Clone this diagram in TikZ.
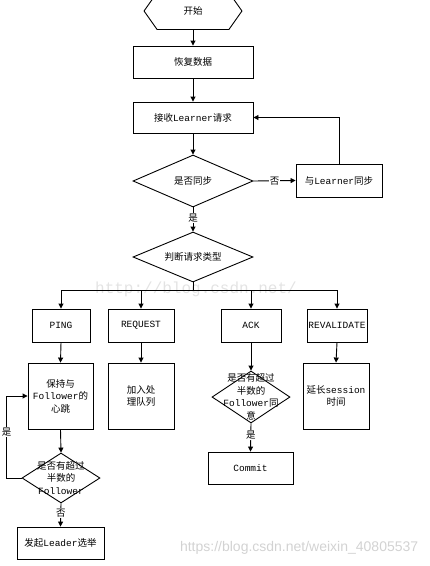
\documentclass[tikz,border=0pt]{standalone}
\usepackage{fontspec}
\setmainfont{Liberation Mono}
\newfontfamily\cjk{Noto Sans CJK SC}
\newfontfamily\wmsans{Liberation Sans}
\usetikzlibrary{shapes.geometric,arrows.meta}
\newcommand\zh[1]{{\cjk #1}}
\begin{document}
\begin{tikzpicture}[x=1pt,y=-1pt, line width=0.9pt,
  font=\fontsize{9.5}{12.5}\selectfont,
  box/.style 2 args={draw, rectangle, inner sep=0pt, align=center, minimum width=#1, minimum height=#2},
  dia/.style 2 args={draw, diamond, inner sep=0pt, minimum width=#1, minimum height=#2},
  arr/.style={-{Triangle[length=5pt,width=5pt]}},
  lbl/.style={fill=white, inner sep=1pt}]
\useasboundingbox (0,0) rectangle (430,566);
% watermarks
\node[text=gray!22, font=\fontsize{16}{16}\selectfont] (wm1) at (196,289) {http://blog.csdn.net/};
\node[text=gray!35, font=\wmsans\fontsize{14}{14}\selectfont, anchor=east] (wm2) at (422,548) {https://blog.csdn.net/weixin\_40805537};

% start hexagon
\node[minimum width=97pt, minimum height=36pt, inner sep=0pt] (start) at (193,11) {\zh{开始}};
\draw (start.west) -- ([xshift=13pt]start.north west) -- ([xshift=-13pt]start.north east) -- (start.east)
  -- ([xshift=-13pt]start.south east) -- ([xshift=13pt]start.south west) -- cycle;

\node[box={120pt}{32pt}] (recover) at (193,62) {\zh{恢复数据}};
\node[box={120pt}{31pt}] (recv) at (193,117.5) {\zh{接收}Learner\zh{请求}};
\node[dia={120pt}{52pt}, label=center:{\zh{是否同步}}] (sync) at (193,181) {};
\node[box={86pt}{33pt}] (syncl) at (339,180.5) {\zh{与}Learner\zh{同步}};
\node[dia={120pt}{50pt}, label=center:{\zh{判断请求类型}}] (type) at (193,257) {};

\node[box={58pt}{33pt}] (ping) at (61,325.5) {PING};
\node[box={66pt}{33pt}] (req) at (141,325.5) {REQUEST};
\node[box={60pt}{33pt}] (ack) at (251,325.5) {ACK};
\node[box={60pt}{33pt}] (reval) at (337,325.5) {REVALIDATE};

\node[box={65pt}{66pt}] (heart) at (60.5,396) {\zh{保持与}\\Follower\zh{的}\\\zh{心跳}};
\node[box={66pt}{66pt}] (queue) at (141,396) {\zh{加入处}\\\zh{理队列}};
\node[box={66pt}{66pt}] (extend) at (336,396) {\zh{延长}session\\\zh{时间}};
\node[dia={78pt}{52pt}, label={[align=center]center:{\zh{是否有超过}\\\zh{半数的}\\Follower\zh{同}\\\zh{意}}}] (ackd) at (251,397) {};
\node[box={85pt}{32pt}] (commit) at (250.5,468) {Commit};
\node[dia={78pt}{50pt}, label={[align=center]center:{\zh{是否有超过}\\\zh{半数的}\\Follower}}] (pingd) at (61,478) {};
\node[box={87pt}{32pt}] (elect) at (60.5,543) {\zh{发起}Leader\zh{选举}};

% connectors
\draw[arr] (start.south) -- (recover.north);
\draw[arr] (recover.south) -- (recv.north);
\draw[arr] (recv.south) -- (sync.north);
\draw[arr] (sync.east) -- node[lbl]{\zh{否}} (syncl.west);
\draw[arr] (syncl.north) |- (recv.east);
\draw[arr] (sync.south) -- node[lbl, pos=0.45]{\zh{是}} (type.north);
\draw (type.south) -- ++(0,8) coordinate (br);
\draw[arr] (br) -| (ping.north);
\draw[arr] (br) -| (req.north);
\draw[arr] (br) -| (ack.north);
\draw[arr] (br) -| (reval.north);
\draw[arr] (ping.south) -- (heart.north);
\draw[arr] (req.south) -- (queue.north);
\draw[arr] (reval.south) -- (extend.north);
\draw[arr] (ack.south) -- (ackd.north);
\draw[arr] (ackd.south) -- node[lbl, pos=0.4]{\zh{是}} (commit.north);
\draw[arr] (heart.south) -- (pingd.north);
\draw[arr] (pingd.south) -- node[lbl, pos=0.4]{\zh{否}} (elect.north);
\draw[arr] (pingd.west) -- ++(-15,0) |- node[lbl, pos=0.28]{\zh{是}} (heart.west);
\end{tikzpicture}
\end{document}
